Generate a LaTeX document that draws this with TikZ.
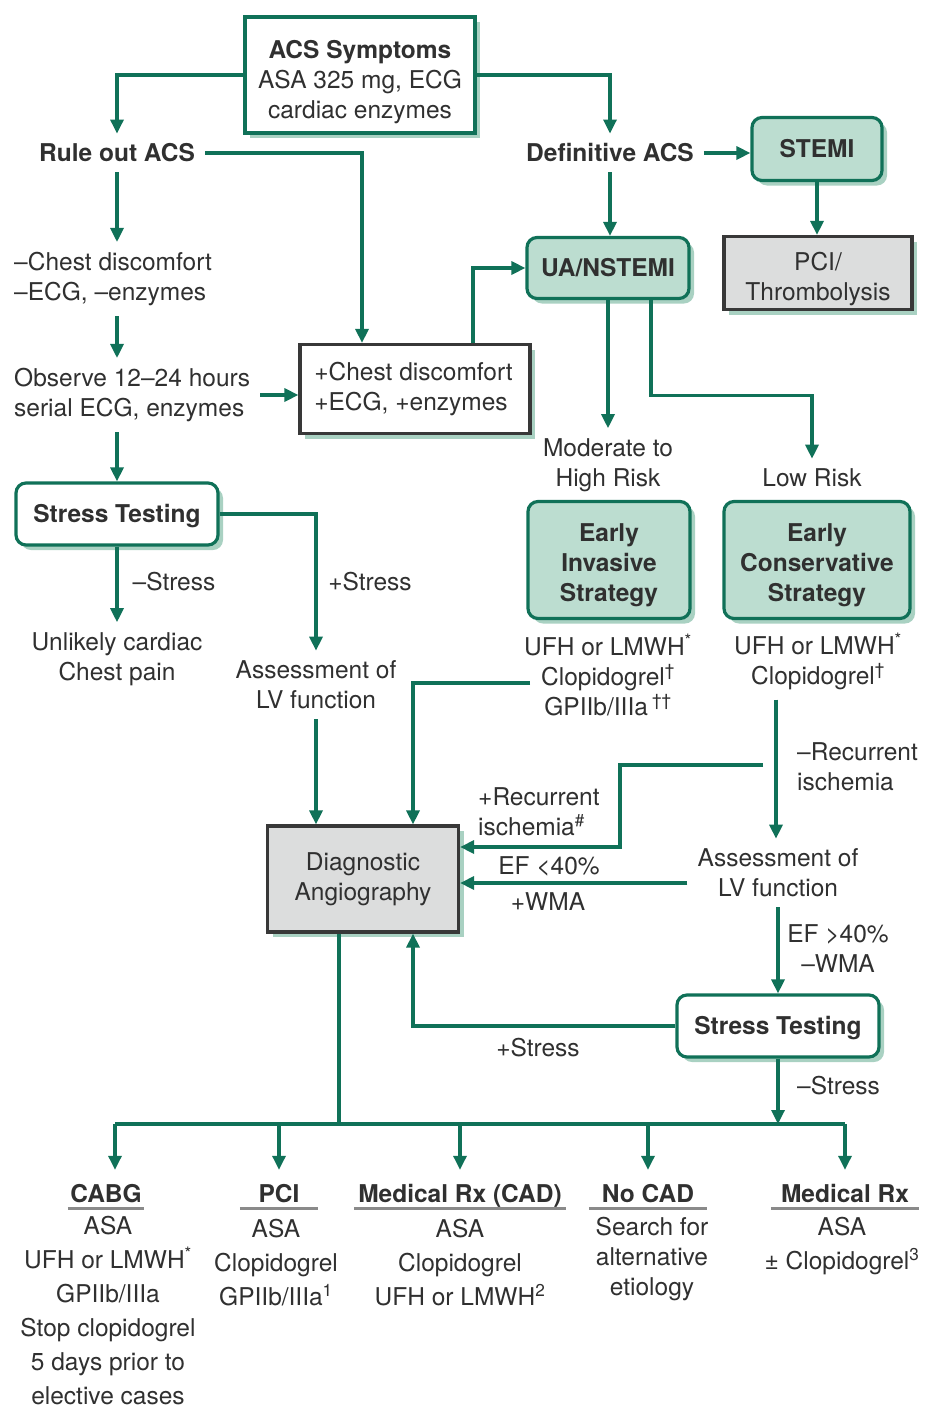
\documentclass[tikz,border=0pt]{standalone}
\usepackage{fontspec}
\setmainfont{TeX Gyre Heros}
\usetikzlibrary{shadows,arrows.meta}

\definecolor{flowgreen}{HTML}{107158}
\definecolor{boxfill}{HTML}{BCDDD0}
\definecolor{shadefill}{HTML}{A9D1C2}
\definecolor{greyfill}{HTML}{DCDDDD}
\definecolor{greyline}{HTML}{383838}
\definecolor{ink}{HTML}{303030}
\definecolor{ruleline}{HTML}{8A8A8A}

% strut that lowers a box's text block
\newcommand{\lowerby}[1]{\rule{0pt}{#1}}

\tikzset{
  txt/.style={font=\fontsize{24.5}{30}\selectfont, text=ink, inner sep=10pt, align=center},
  shadowed/.style={drop shadow={shadow xshift=5pt, shadow yshift=-5pt, fill=shadefill, opacity=1, draw=none}},
  whitebox/.style={txt, shadowed, draw=flowgreen, fill=white, line width=3.2pt},
  roundwhite/.style={whitebox, rounded corners=10pt},
  greenbox/.style={txt, shadowed, draw=flowgreen, fill=boxfill, line width=3.2pt, rounded corners=10pt},
  greybox/.style={txt, shadowed, draw=greyline, fill=greyfill, line width=3.2pt},
  plainbox/.style={txt, shadowed, draw=greyline, fill=white, line width=3.2pt},
  oneline/.style={text height=17.6pt, text depth=0pt},
  head/.style={txt, font=\fontsize{24.5}{30}\selectfont\bfseries, inner xsep=0pt, inner ysep=0pt, text height=18pt, text depth=6pt},
  coltxt/.style={txt, font=\fontsize{24.5}{34}\selectfont},
  uline/.style={draw=ruleline, line width=3pt},
  line/.style={draw=flowgreen, line width=3.2pt},
  arr/.style={line, -{Triangle[length=14pt,width=13pt]}},
}

\begin{document}
\begin{tikzpicture}[x=1pt, y=-1pt]
  \useasboundingbox (0,0) rectangle (924,1408);
  \fill[white] (0,0) rectangle (924,1408);

  % ---- top of the chart ----
  \node[whitebox, inner ysep=4pt, minimum width=230pt, minimum height=116pt] (acs) at (360,75)
    {\lowerby{32.6pt}\textbf{ACS Symptoms}\\ASA 325 mg, ECG\\cardiac enzymes};
  \node[txt, font=\fontsize{24.5}{30}\selectfont\bfseries] (ruleout) at (117,153) {Rule out ACS};
  \node[txt, font=\fontsize{24.5}{30}\selectfont\bfseries] (definitive) at (610,153) {Definitive ACS};
  \node[greenbox, oneline, minimum width=130pt, minimum height=63pt] (stemi) at (817,149) {\textbf{STEMI}};
  \node[greybox, inner ysep=2pt, minimum width=188pt, minimum height=73pt] (pcithr) at (818,273)
    {\lowerby{30.6pt}PCI/\\Thrombolysis};
  \node[greenbox, oneline, minimum width=162pt, minimum height=61pt] (ua) at (608,268) {\textbf{UA/NSTEMI}};

  % ---- rule-out branch ----
  \node[txt, align=left, anchor=west] (chestneg) at (4,279) {–Chest discomfort\\–ECG, –enzymes};
  \node[txt, align=left, anchor=west] (observe) at (4,395) {Observe 12–24 hours\\serial ECG, enzymes};
  \node[plainbox, align=left, inner xsep=6pt, minimum width=230pt, minimum height=89pt] (chest) at (415,389)
    {+Chest discomfort\\+ECG, +enzymes\hspace*{8pt}};
  \node[roundwhite, oneline, minimum width=202pt, minimum height=62pt] (stress1) at (117,514) {\textbf{Stress Testing}};
  \node[txt] (negstress1) at (174,582) {–Stress};
  \node[txt] (posstress1) at (370,582) {+Stress};
  \node[txt] (unlikely) at (117,659) {Unlikely cardiac\\Chest pain};
  \node[txt] (assess1) at (316,685) {Assessment of\\LV function};

  % ---- UA/NSTEMI branch ----
  \node[txt] (moderate) at (608,465) {Moderate to\\High Risk};
  \node[txt] (lowrisk) at (812,478) {Low Risk};
  \node[greenbox, minimum width=162pt, minimum height=117pt] (inv) at (609,560)
    {\lowerby{27.6pt}\textbf{Early}\\\textbf{Invasive}\\\textbf{Strategy}};
  \node[greenbox, minimum width=186pt, minimum height=117pt] (cons) at (817,560)
    {\lowerby{27.6pt}\textbf{Early}\\\textbf{Conservative}\\\textbf{Strategy}};
  \node[txt] (invtxt) at (608,675)
    {UFH or LMWH\textsuperscript{*}\\Clopidogrel\textsuperscript{†}\\GPIIb/IIIa\,\textsuperscript{††}};
  \node[txt] (constxt) at (818,661)
    {UFH or LMWH\textsuperscript{*}\\Clopidogrel\textsuperscript{†}};
  \coordinate (invout) at (530,683);
  \coordinate (rbranch) at (763,765);

  \node[greybox, minimum width=191pt, minimum height=106pt] (diag) at (363,879) {Diagnostic\\Angiography};
  \node[txt, align=left, anchor=west] (negrec) at (787,767) {–Recurrent\\ischemia};
  \node[txt, align=left, anchor=west] (posrec) at (468,812) {+Recurrent\\ischemia\textsuperscript{\#}};
  \node[txt] (assess2) at (778,873) {Assessment of\\LV function};
  \node[txt] (eflow) at (549,866) {EF <40\%};
  \node[txt] (wmapos) at (548,902) {+WMA};
  \node[txt] (efhigh) at (838,949) {EF >40\%\\–WMA};
  \node[roundwhite, oneline, minimum width=202pt, minimum height=62pt] (stress2) at (778,1026) {\textbf{Stress Testing}};
  \node[txt] (posstress2) at (538,1048) {+Stress};
  \node[txt, anchor=west] (negstress2) at (787,1086) {–Stress};

  % ---- outcomes ----
  \node[head, minimum width=76pt] (cabg) at (106,1196) {CABG};
  \node[head, minimum width=78pt] (pci) at (279,1196) {PCI};
  \node[head, minimum width=211pt] (medcad) at (460,1196) {Medical Rx (CAD)};
  \node[head, minimum width=118pt] (nocad) at (648,1196) {No CAD};
  \node[head, minimum width=148pt] (medrx) at (845,1196) {Medical Rx};
  \foreach \h in {cabg,pci,medcad,nocad,medrx}
    \draw[uline] (\h.south west) -- (\h.south east);

  \node[coltxt] (cabgtxt) at (108,1311)
    {ASA\\UFH or LMWH\textsuperscript{*}\\GPIIb/IIIa\\Stop clopidogrel\\5 days prior to\\elective cases};
  \node[coltxt] (pcitxt) at (276,1263) {ASA\\Clopidogrel\\GPIIb/IIIa\textsuperscript{1}};
  \node[coltxt] (medcadtxt) at (460,1263) {ASA\\Clopidogrel\\UFH or LMWH\textsuperscript{2}};
  \node[txt] (nocadtxt) at (652,1259) {Search for\\alternative\\etiology};
  \node[coltxt] (medrxtxt) at (842,1246) {ASA\\± Clopidogrel\textsuperscript{3}};

  \coordinate (busL) at (115,1124);
  \coordinate (busR) at (845,1124);

  % ---- connectors ----
  \draw[arr] (acs.west) -| (ruleout.north);
  \draw[arr] (acs.east) -| (definitive.north);
  \draw[arr] (ruleout.east) -| ([xshift=-53pt]chest.north);
  \draw[arr] (definitive.east) -- (definitive.east -| stemi.west);
  \draw[arr] (definitive.south) -- (definitive.south |- ua.north);
  \draw[arr] (stemi.south) -- (stemi.south |- pcithr.north);
  \draw[arr] ([xshift=58pt]chest.north) |- (ua.west);

  \draw[arr] (ruleout.south) -- (ruleout.south |- chestneg.north);
  \draw[arr] (ruleout.south |- chestneg.south) -- (ruleout.south |- observe.north);
  \draw[arr] (observe.east) -- (observe.east -| chest.west);
  \draw[arr] (ruleout.south |- observe.south) -- (stress1.north);
  \draw[arr] (stress1.south) -- (unlikely.north);
  \draw[arr] (stress1.east) -| (assess1.north);
  \draw[arr] (assess1.south) -- (assess1.south |- diag.north);

  \draw[arr] (ua.south) -- (moderate.north);
  \draw[arr] ([xshift=43pt]ua.south) -- ++(0,95) -| (lowrisk.north);
  \draw[arr] (invout) -| ([xshift=50pt]diag.north);
  \draw[arr] ([xshift=-42pt]constxt.south) -- ([xshift=-42pt]constxt.south |- assess2.north);
  \draw[arr] (rbranch) -- ++(-143,0) |- ([yshift=32pt]diag.east);
  \draw[arr] ([yshift=-10pt]assess2.west) -- ([yshift=-10pt]assess2.west -| diag.east);
  \draw[arr] (assess2.south) -- (stress2.north);
  \draw[arr] (stress2.west) -| ([xshift=50pt]diag.south);
  \draw[arr] (stress2.south) -- (stress2.south |- busL);

  \draw[line] ([xshift=-24pt]diag.south) -- ([xshift=-24pt]diag.south |- busL);
  \draw[line] (busL) -- (busR);
  \draw[arr, shorten >=14pt] (busL) -- (busL |- cabg.north);
  \foreach \h in {pci,medcad,nocad,medrx}
    \draw[arr, shorten >=14pt] (\h.north |- busL) -- (\h.north);
\end{tikzpicture}
\end{document}
